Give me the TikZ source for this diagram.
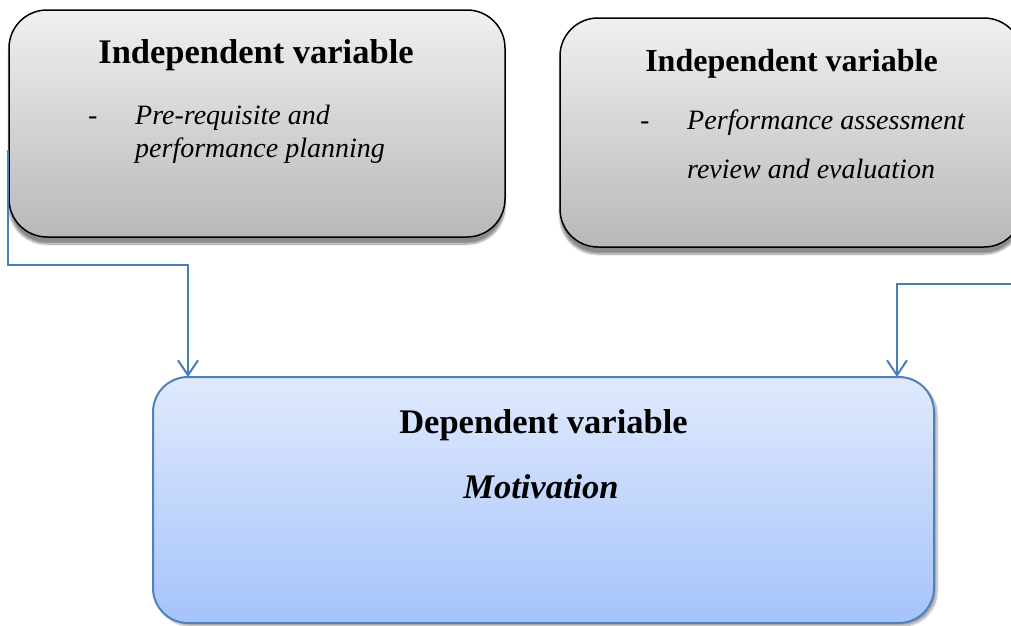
\documentclass[tikz,border=0pt]{standalone}
\usepackage{fontspec}
\setmainfont{Liberation Serif}
\usetikzlibrary{arrows.meta,shadows.blur}
\definecolor{conn}{HTML}{4A7EBB}
\definecolor{bluedge}{HTML}{4F81BD}
\definecolor{graytop}{HTML}{F0F0F0}
\definecolor{graybot}{HTML}{B8B8B8}
\definecolor{bluetop}{HTML}{E0EAFD}
\definecolor{bluebot}{HTML}{A5C3FB}
\begin{document}
\begin{tikzpicture}[x=1pt,y=-1pt,
  graybox/.style={draw=black, line width=1.5pt, rounded corners=38pt,
    top color=graytop, bottom color=graybot, inner sep=0pt, outer sep=0pt,
    blur shadow={shadow xshift=0pt, shadow yshift=-7pt, shadow blur steps=10, shadow opacity=45}},
  bluebox/.style={draw=bluedge, line width=2pt, rounded corners=35pt,
    top color=bluetop, bottom color=bluebot, inner sep=0pt, outer sep=0pt,
    blur shadow={shadow xshift=3pt, shadow yshift=-3pt, shadow blur steps=10, shadow opacity=35}},
  titleA/.style={anchor=base, font=\fontsize{34.5}{40}\selectfont\bfseries, inner sep=0pt},
  titleB/.style={anchor=base, font=\fontsize{32}{38}\selectfont\bfseries, inner sep=0pt},
  itxt/.style={anchor=base west, font=\fontsize{28}{33}\selectfont\itshape, inner sep=0pt},
  dashtxt/.style={anchor=base west, font=\fontsize{28}{33}\selectfont, inner sep=0pt},
  conn/.style={draw=conn, line width=2pt, -{Straight Barb[length=15pt,width=20pt]}}
]
\useasboundingbox (0,0) rectangle (1011,625);

% boxes
\node[graybox, minimum width=496pt, minimum height=227pt] (iv1) at (257,123.5) {};
\node[graybox, minimum width=462pt, minimum height=229pt] (iv2) at (791,132.5) {};
\node[bluebox, minimum width=781pt, minimum height=246pt] (dv) at (543.5,500) {};

% texts box 1
\node[titleA] (t1) at (256,63) {Independent variable};
\node[dashtxt] (d1) at (88,124) {-};
\node[itxt] (l1a) at (135,124) {Pre-requisite and};
\node[itxt] (l1b) at (135,157) {performance planning};

% texts box 2
\node[titleB] (t2) at (791.5,71) {Independent variable};
\node[dashtxt] (d2) at (640,129) {-};
\node[itxt] (l2a) at (687,129) {Performance assessment};
\node[itxt] (l2b) at (687,178) {review and evaluation};

% texts box 3
\node[titleA] (t3) at (543.5,433) {Dependent variable};
\node[titleA, font=\fontsize{34.5}{40}\selectfont\bfseries\itshape] (t4) at (541,498) {Motivation};

% connectors
\coordinate (s1) at (8,150);
\coordinate (b1) at (188,265);
\draw[conn] (s1) |- (b1) -- (b1 |- dv.north);
\coordinate (s2) at (1011,284);
\coordinate (b2) at (897,284);
\draw[conn] (s2) -- (b2) -- (b2 |- dv.north);
\end{tikzpicture}
\end{document}
